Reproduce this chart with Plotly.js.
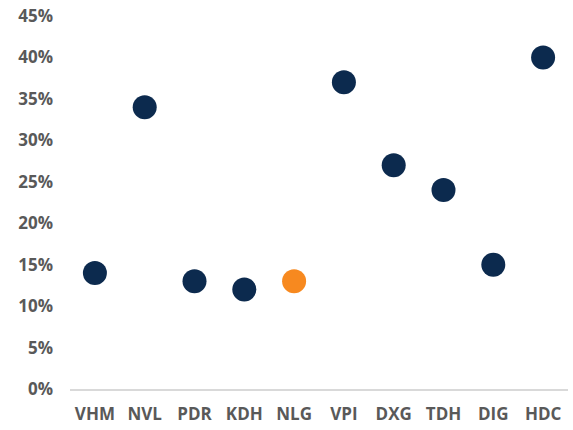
<!DOCTYPE html>
<html><head><meta charset="utf-8">
<script src="https://cdn.plot.ly/plotly-3.0.1.min.js"></script>
<style>body{margin:0;background:#fff}#c{width:573px;height:430px}</style>
</head><body><div id="c"></div>
<script>
const categories = ["VHM","NVL","PDR","KDH","NLG","VPI","DXG","TDH","DIG","HDC"];
const values = [0.14,0.34,0.13,0.12,0.13,0.37,0.27,0.24,0.15,0.40];
const highlight = "NLG";
const colors = categories.map(c => c === highlight ? "#F7891F" : "#0C2A4E");
const yTicks = [0,0.05,0.10,0.15,0.20,0.25,0.30,0.35,0.40,0.45];
const tf = {family: "'Open Sans', sans-serif", size: 17, color: "#595959", weight: "bold"};
Plotly.newPlot("c", [{
  type: "scatter", mode: "markers",
  x: categories, y: values,
  marker: {size: 24, color: colors},
  hoverinfo: "skip"
}], {
  width: 573, height: 430,
  margin: {l: 70, r: 5, t: 16, b: 41},
  paper_bgcolor: "#fff", plot_bgcolor: "#fff",
  showlegend: false,
  font: tf,
  xaxis: {
    type: "category", range: [-0.5, 9.5],
    showgrid: false, zeroline: false,
    showline: true, linecolor: "#D9D9D9", linewidth: 1.5,
    ticks: "", tickfont: tf, ticklabelstandoff: 9
  },
  yaxis: {
    range: [0, 0.45], tickvals: yTicks, tickformat: ".0%",
    showgrid: false, zeroline: false, showline: false,
    ticks: "", tickfont: tf, ticklabelstandoff: 16
  }
}, {displayModeBar: false, staticPlot: true});
</script></body></html>
